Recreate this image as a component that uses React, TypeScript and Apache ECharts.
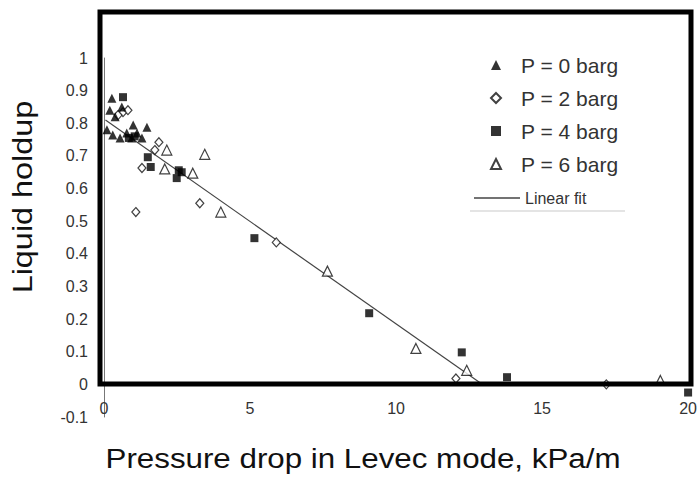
import React, { useEffect, useRef } from "react";
import * as echarts from "echarts";

const xTicks = [0, 5, 10, 15, 20];
const yTicks = [-0.1, 0, 0.1, 0.2, 0.3, 0.4, 0.5, 0.6, 0.7, 0.8, 0.9, 1];

const seriesNames = ["P = 0 barg", "P = 2 barg", "P = 4 barg", "P = 6 barg", "Linear fit"];

const p0: number[][] = [
  [0.27, 0.877], [0.61, 0.85], [0.2, 0.84], [0.38, 0.82], [1.0, 0.795], [1.47, 0.788],
  [0.1, 0.78], [0.3, 0.764], [0.78, 0.77], [1.13, 0.77], [0.95, 0.755], [1.3, 0.755], [0.55, 0.755],
];
const p2: number[][] = [
  [0.65, 0.834], [0.82, 0.84], [0.48, 0.825], [1.88, 0.742], [1.74, 0.718], [1.3, 0.663],
  [1.09, 0.528], [3.28, 0.555], [5.9, 0.435], [12.05, 0.018], [17.2, 0.0],
];
const p4: number[][] = [
  [0.65, 0.88], [0.85, 0.755], [1.05, 0.76], [1.5, 0.696], [1.6, 0.666], [2.56, 0.656],
  [2.49, 0.632], [2.66, 0.65], [5.15, 0.448], [9.08, 0.218], [12.25, 0.098], [13.8, 0.022], [20, -0.025],
];
const p6: number[][] = [
  [2.15, 0.718], [2.08, 0.66], [3.04, 0.647], [3.45, 0.705], [4.0, 0.528], [7.65, 0.347],
  [10.68, 0.11], [12.42, 0.043], [19.05, 0.012],
];
const fit: number[][] = [[0.05, 0.81], [12.95, 0.0]];

const FONT = "Liberation Sans, Arial, sans-serif";

export default function App() {
  const ref = useRef<HTMLDivElement>(null);
  useEffect(() => {
    if (!ref.current) return;
    const chart = echarts.init(ref.current, undefined, { renderer: "svg" });
    const open = { color: "#fff", borderColor: "#111", borderWidth: 1.2 };
    const filled = { color: "#000" };
    chart.setOption({
      animation: false,
      backgroundColor: "#fff",
      grid: { left: 104, right: 10, top: 58, bottom: 60, containLabel: false },
      xAxis: {
        type: "value",
        min: xTicks[0],
        max: xTicks[xTicks.length - 1],
        interval: 5,
        axisLine: { show: false, onZero: false },
        axisTick: { show: false },
        splitLine: { show: false },
        axisLabel: { margin: -17, fontSize: 16, color: "#333", fontFamily: FONT },
      },
      yAxis: {
        type: "value",
        min: yTicks[0],
        max: yTicks[yTicks.length - 1],
        interval: 0.1,
        axisLine: { show: true, onZero: false, lineStyle: { color: "#777", width: 1 } },
        axisTick: { show: false },
        splitLine: { show: false },
        axisLabel: {
          margin: 16,
          fontSize: 16,
          color: "#333",
          fontFamily: FONT,
          formatter: (v: number) => String(Math.round(v * 10) / 10),
        },
      },
      legend: [
        {
          orient: "vertical",
          left: 485,
          top: 48,
          itemWidth: 10,
          itemHeight: 10,
          itemGap: 9,
          data: seriesNames.slice(0, 4),
          textStyle: { fontSize: 21, color: "#333", fontFamily: FONT, lineHeight: 24, padding: [0, 0, 0, 15] },
        },
        {
          orient: "vertical",
          left: 469,
          top: 181,
          itemWidth: 46,
          itemHeight: 1.3,
          data: [{ name: seriesNames[4], icon: "rect" }],
          textStyle: { fontSize: 16, color: "#333", fontFamily: FONT, lineHeight: 24 },
        },
      ],
      graphic: [
        {
          type: "rect",
          shape: { x: 100, y: 12, width: 591, height: 372 },
          style: { fill: "none", stroke: "#000", lineWidth: 5 },
          z: 10,
        },
        {
          type: "text",
          x: 22,
          y: 197,
          rotation: Math.PI / 2,
          scaleX: 1.2,
          style: {
            text: "Liquid holdup",
            fontSize: 27,
            fontFamily: FONT,
            fill: "#111",
            align: "center",
            verticalAlign: "middle",
          },
        },
        {
          type: "text",
          x: 363,
          y: 459,
          scaleX: 1.16,
          style: {
            text: "Pressure drop in Levec mode, kPa/m",
            fontSize: 27,
            fontFamily: FONT,
            fill: "#111",
            align: "center",
            verticalAlign: "middle",
          },
        },
        {
          type: "line",
          shape: { x1: 470, y1: 211, x2: 625, y2: 211 },
          style: { stroke: "#e4e4e4", lineWidth: 2 },
        },
      ],
      series: [
        { name: seriesNames[0], type: "scatter", data: p0, symbol: "triangle", symbolSize: 9, itemStyle: filled, z: 5 },
        { name: seriesNames[1], type: "scatter", data: p2, symbol: "diamond", symbolSize: [8, 9], itemStyle: open, z: 4 },
        { name: seriesNames[2], type: "scatter", data: p4, symbol: "rect", symbolSize: 8, itemStyle: filled, z: 5 },
        { name: seriesNames[3], type: "scatter", data: p6, symbol: "triangle", symbolSize: 10, itemStyle: open, z: 4 },
        {
          name: seriesNames[4],
          type: "line",
          data: fit,
          showSymbol: false,
          symbol: "none",
          lineStyle: { color: "#444", width: 1.2 },
          itemStyle: { color: "#444" },
          z: 3,
        },
      ],
    });
    return () => chart.dispose();
  }, []);
  return <div ref={ref} style={{ width: 700, height: 477, position: "absolute", left: 0, top: 0 }} />;
}
